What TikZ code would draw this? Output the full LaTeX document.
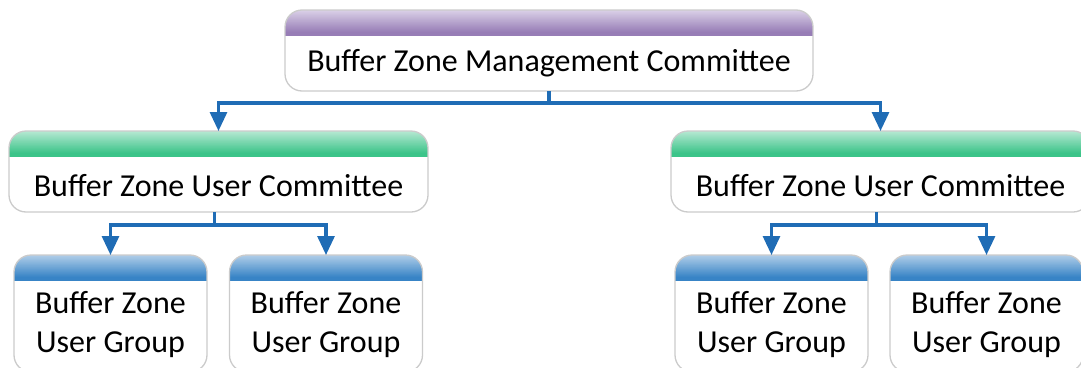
\documentclass[tikz,border=0pt]{standalone}
\usepackage{fontspec}
\setmainfont{Carlito}
\usetikzlibrary{arrows.meta}
\definecolor{purpA}{HTML}{DAD0E7}
\definecolor{purpB}{HTML}{977DB6}
\definecolor{grnA}{HTML}{B5E8D2}
\definecolor{grnB}{HTML}{3CC489}
\definecolor{bluA}{HTML}{AFCDE8}
\definecolor{bluB}{HTML}{3884C6}
\definecolor{conncol}{HTML}{1F6CB5}
\definecolor{bordcol}{HTML}{CBCBCB}
\tikzset{
  box/.style={draw=bordcol, line width=1.3pt, fill=white, rounded corners=17pt,
    inner sep=0pt, outer sep=0pt},
  hdr/.style 2 args={path picture={
    \foreach \i in {0,...,25}{
      \pgfmathtruncatemacro{\pc}{min(100,\i*4.6)}
      \fill[sharp corners, #2!\pc!#1]
        ([yshift=-\i pt]path picture bounding box.north west) rectangle
        ([yshift=-\i pt-1.1pt]path picture bounding box.north east);
    }}},
  txt/.style={font=\fontsize{32}{39}\selectfont, align=center, inner sep=0pt},
  conn/.style={draw=conncol, line width=3.1pt,
    -{Triangle[width=17pt,length=19pt]}},
}
\begin{document}
\begin{tikzpicture}[x=1pt,y=-1pt]
\useasboundingbox (0,0) rectangle (1081,367);
\clip (0,0) rectangle (1081,367);
% top
\node[box, hdr={purpA}{purpB}, minimum width=528pt, minimum height=81pt] (top) at (549,50.5) {};
\node[txt] (topt) at (549,63) {Buffer Zone Management Committee};
% user committees
\node[box, hdr={grnA}{grnB}, minimum width=419pt, minimum height=81pt] (luc) at (218.5,171.5) {};
\node[txt] (luct) at (218.5,186) {Buffer Zone User Committee};
\node[box, hdr={grnA}{grnB}, minimum width=419pt, minimum height=81pt] (ruc) at (880.5,171.5) {};
\node[txt] (ruct) at (880.5,186) {Buffer Zone User Committee};
% user groups
\node[box, hdr={bluA}{bluB}, minimum width=193pt, minimum height=117pt] (ug1) at (110.5,313.5) {};
\node[txt] (ug1t) at (110.5,325) {Buffer Zone\\User Group};
\node[box, hdr={bluA}{bluB}, minimum width=193pt, minimum height=117pt] (ug2) at (326,313.5) {};
\node[txt] (ug2t) at (326,325) {Buffer Zone\\User Group};
\node[box, hdr={bluA}{bluB}, minimum width=193pt, minimum height=117pt] (ug3) at (771.5,313.5) {};
\node[txt] (ug3t) at (771.5,325) {Buffer Zone\\User Group};
\node[box, hdr={bluA}{bluB}, minimum width=193pt, minimum height=117pt] (ug4) at (986.5,313.5) {};
\node[txt] (ug4t) at (986.5,325) {Buffer Zone\\User Group};
% connectors
\draw[conn] (top.south) -- ++(0,12) -| (luc.north);
\draw[conn] (top.south) -- ++(0,12) -| (ruc.north);
\draw[conn] ([xshift=-4pt]luc.south) -- ++(0,13) -| (ug1.north);
\draw[conn] ([xshift=-4pt]luc.south) -- ++(0,13) -| (ug2.north);
\draw[conn] ([xshift=-4pt]ruc.south) -- ++(0,13) -| (ug3.north);
\draw[conn] ([xshift=-4pt]ruc.south) -- ++(0,13) -| (ug4.north);
\end{tikzpicture}
\end{document}
